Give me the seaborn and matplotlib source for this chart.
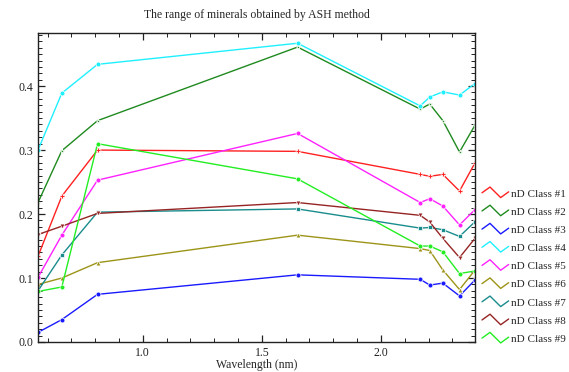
import numpy as np
import pandas as pd
import matplotlib
matplotlib.use("Agg")
import matplotlib.pyplot as plt
from matplotlib.lines import Line2D
from matplotlib.legend_handler import HandlerBase
from matplotlib.ticker import MultipleLocator
import seaborn as sns

wavelengths = [0.56, 0.66, 0.81, 1.65, 2.165, 2.205, 2.26, 2.33, 2.395]
class_names = ["nD Class #1", "nD Class #2", "nD Class #3", "nD Class #4", "nD Class #5",
               "nD Class #6", "nD Class #7", "nD Class #8", "nD Class #9"]
class1 = [0.134, 0.228, 0.300, 0.298, 0.262, 0.259, 0.262, 0.236, 0.280]
class2 = [0.218, 0.299, 0.346, 0.461, 0.364, 0.372, 0.346, 0.297, 0.339]
class3 = [0.015, 0.035, 0.0745, 0.105, 0.098, 0.089, 0.092, 0.072, 0.097]
class4 = [0.300, 0.389, 0.434, 0.467, 0.369, 0.383, 0.391, 0.386, 0.404]
class5 = [0.101, 0.167, 0.253, 0.326, 0.218, 0.224, 0.2125, 0.183, 0.207]
class6 = [0.090, 0.100, 0.124, 0.167, 0.146, 0.143, 0.1125, 0.082, 0.1125]
class7 = [0.080, 0.136, 0.203, 0.208, 0.178, 0.179, 0.1755, 0.165, 0.188]
class8 = [0.168, 0.181, 0.201, 0.218, 0.198, 0.1875, 0.162, 0.132, 0.162]
class9 = [0.079, 0.086, 0.310, 0.255, 0.150, 0.150, 0.141, 0.107, 0.111]
series = [class1, class2, class3, class4, class5, class6, class7, class8, class9]

colors = ["#ff2020", "#1f8a1f", "#1a1aff", "#1ff0ff", "#ff22ff",
          "#9c9418", "#1a8c8c", "#962424", "#22ee22"]
markers = ["P", "*", "o", "o", "o", "^", "s", "v", "o"]

rows = []
for name, vals in zip(class_names, series):
    for w, v in zip(wavelengths, vals):
        rows.append({"Wavelength": w, "Value": v, "Class": name})
df = pd.DataFrame(rows)

sns.set_style("ticks")
plt.rcParams["font.family"] = ["Liberation Serif", "DejaVu Serif"]

fig = plt.figure(figsize=(5.69, 3.72), dpi=100)
ax = fig.add_axes([38/569, 1-342/372, (475-38)/569, (342-33)/372])

sns.lineplot(data=df, x="Wavelength", y="Value", hue="Class", style="Class",
             palette=dict(zip(class_names, colors)),
             markers=dict(zip(class_names, markers)), dashes=False,
             linewidth=1.0, markersize=3.5, markeredgewidth=0.5,
             sort=False, ax=ax, legend=False)

ax.set_xlim(0.56, 2.395)
ax.set_ylim(0.0, 0.483)
ax.xaxis.set_major_locator(MultipleLocator(0.5))
ax.xaxis.set_minor_locator(MultipleLocator(0.1))
ax.yaxis.set_major_locator(MultipleLocator(0.1))
ax.yaxis.set_minor_locator(MultipleLocator(0.01))
ax.yaxis.set_major_formatter(matplotlib.ticker.FormatStrFormatter("%.1f"))
ax.tick_params(which="both", direction="in", top=True, right=True, labelsize=8.5, colors="#222222")
ax.tick_params(which="major", length=5, width=0.9)
ax.tick_params(which="minor", length=3, width=0.7)
for s in ax.spines.values():
    s.set_linewidth(1.0)
    s.set_color("#222222")

ax.set_title("The range of minerals obtained by ASH method", fontsize=8.5, pad=11)
ax.set_xlabel("Wavelength (nm)", fontsize=8.5, labelpad=0)
ax.set_ylabel("")


class ZigZagHandler(HandlerBase):
    def create_artists(self, legend, orig_handle, xdescent, ydescent, width, height, fontsize, trans):
        xs = np.array([0.0, 0.3, 0.7, 1.0]) * width - xdescent
        ys = np.array([0.5, 1.1, 0.0, 0.6]) * height - ydescent
        ln = Line2D(xs, ys, color=orig_handle.get_color(), linewidth=1.0, transform=trans)
        return [ln]


handles = [Line2D([], [], color=c) for c in colors]
fig.legend(handles, class_names, handler_map={Line2D: ZigZagHandler()},
           loc="upper left", bbox_to_anchor=(482/569, 1-188/372), frameon=False,
           fontsize=8.0, handlelength=2.4, handleheight=0.95, handletextpad=0.25,
           labelspacing=0.68, borderaxespad=0, borderpad=0)

fig.savefig("out.png", dpi=100)
